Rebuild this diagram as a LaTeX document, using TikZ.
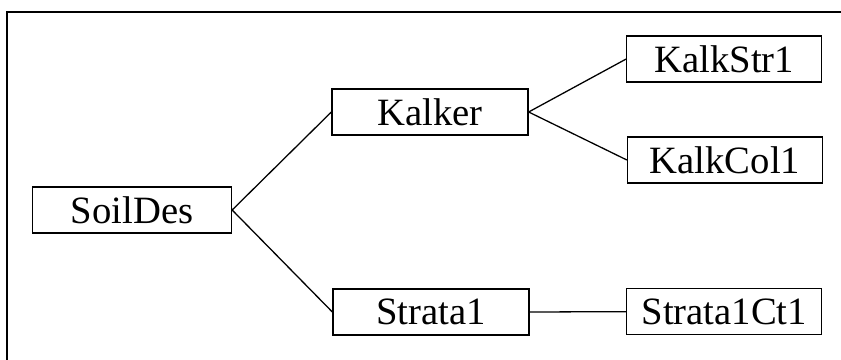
\documentclass[tikz,border=0pt]{standalone}
\usepackage{fontspec}
\setmainfont{Liberation Serif}
\begin{document}
\begin{tikzpicture}[line width=1.1pt,
		box/.style={draw, fill=white, minimum width=5.88cm, minimum height=1.38cm, inner sep=0pt, font=\fontsize{33}{40}\selectfont}]
			\useasboundingbox (0,0) rectangle (25.23,10.8);
			\draw (0.21,0) -- (0.21,10.44) -- (25.23,10.44);
			%--
			\node[box, minimum width=5.97cm] (soil) at (3.96,4.5) {SoilDes};
			\node[box] (kalker) at (12.9,7.44) {Kalker};
			\node[box] (strata) at (12.93,1.44) {Strata1};
			\node[box, minimum width=5.85cm] (kstr) at (21.73,9.03) {KalkStr1};
			\node[box, minimum width=5.85cm] (kcol) at (21.75,6.0) {KalkCol1};
			\node[box, minimum width=5.85cm] (sct) at (21.73,1.45) {Strata1Ct1};
			%--
			\draw (soil.east) -- (kalker.west);
			\draw (soil.east) -- (strata.west);
			\draw (kalker.east) -- (kstr.west);
			\draw (kalker.east) -- (kcol.west);
			\draw (strata.east) -- (sct.west);
		\end{tikzpicture}
\end{document}
